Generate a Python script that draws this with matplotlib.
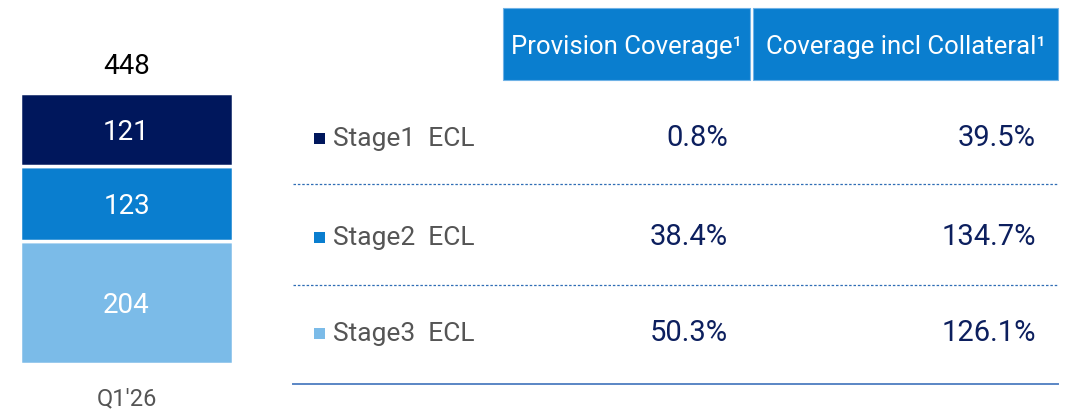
import matplotlib.pyplot as plt
from matplotlib.patches import Rectangle

plt.rcParams['font.family'] = ['Roboto', 'DejaVu Sans']

# data
period = "Q1'26"
stages = ["Stage1  ECL", "Stage2  ECL", "Stage3  ECL"]
ecl = [121, 123, 204]
provision_cov = ["0.8%", "38.4%", "50.3%"]
coverage_coll = ["39.5%", "134.7%", "126.1%"]
headers = ["Provision Coverage\u00b9", "Coverage incl Collateral\u00b9"]
colors = ["#00175c", "#0a7ecf", "#7bbbe8"]

navy = "#0c1f5e"
gray = "#555555"

W, H = 1073, 411
fig = plt.figure(figsize=(W / 100, H / 100), dpi=100)

# stacked bar (stage3 at bottom, stage1 on top)
# axes padded by ~2px so the white edge lines don't eat into the bar
ax = fig.add_axes([20 / W, (H - 364) / H, 213 / W, 271 / H])
bottom = 0
for i in [2, 1, 0]:
    ax.bar(0, ecl[i], bottom=bottom, width=1, color=colors[i],
           edgecolor="white", linewidth=2.5)
    ax.text(0, bottom + ecl[i] / 2 - 5, str(ecl[i]), ha="center", va="center",
            color="white", fontsize=20)
    bottom += ecl[i]
total = sum(ecl)
ax.set_xlim(-0.5, 0.5)
ax.set_ylim(0, total)
ax.text(0, total + 44, str(total), ha="center", va="center", color="black", fontsize=20)
ax.set_xticks([0], [period], color=gray, fontsize=17)
ax.tick_params(axis="x", length=0, pad=17)
ax.set_yticks([])
for s in ax.spines.values():
    s.set_visible(False)

# table overlay in pixel coordinates
tx = fig.add_axes([0, 0, 1, 1])
tx.set_xlim(0, W)
tx.set_ylim(H, 0)
tx.axis("off")

head_x = [(503, 750), (753, 1058)]
for (x0, x1), h in zip(head_x, headers):
    tx.add_patch(Rectangle((x0, 8), x1 - x0, 72, facecolor="#0a7ecf",
                           edgecolor="#6fb2e6", linewidth=0.8))
    tx.text((x0 + x1) / 2, 47, h, ha="center", va="center", color="white", fontsize=18.5)

row_y = [138, 237, 333]
for i in range(3):
    y = row_y[i]
    tx.add_patch(Rectangle((314, y - 5), 11, 11, facecolor=colors[i], edgecolor="none"))
    tx.text(333, y + 1, stages[i], ha="left", va="center", color=gray, fontsize=19)
    tx.text(728, y, provision_cov[i], ha="right", va="center", color=navy, fontsize=21)
    tx.text(1036, y, coverage_coll[i], ha="right", va="center", color=navy, fontsize=21)

for y in [184, 285]:
    tx.plot([293, 1058], [y, y], color="#2f6db5", linewidth=0.9, linestyle=(0, (2, 1.5)))
tx.plot([293, 1058], [384, 384], color="#5a86c5", linewidth=1.4)

fig.savefig("out.png", dpi=100)
